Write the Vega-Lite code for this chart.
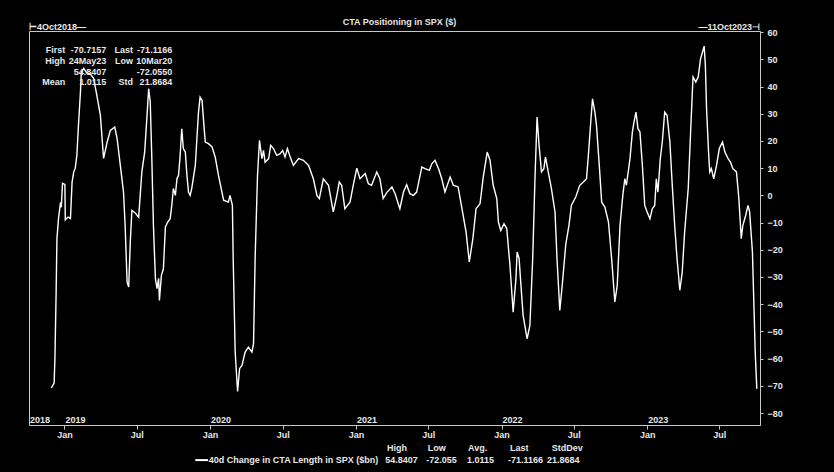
{
  "$schema": "https://vega.github.io/schema/vega-lite/v6.json",
  "autosize": "none",
  "width": 731,
  "height": 394,
  "padding": {"left": 29, "top": 31, "right": 74, "bottom": 47},
  "background": "#000000",
  "title": {"text": "CTA Positioning in SPX ($)", "anchor": "middle", "offset": -4, "dx": 5, "fontSize": 9, "font": "Liberation Sans", "fontWeight": "bold", "color": "#e8e8e8"},
  "config": {
    "view": {"stroke": "#c8c8c8", "strokeWidth": 1},
    "axis": {"grid": false, "domainColor": "#c8c8c8", "tickColor": "#c8c8c8", "labelColor": "#e8e8e8", "labelFont": "Liberation Sans", "labelFontWeight": "bold", "labelFontSize": 9, "title": null}
  },
  "datasets": {
    "series": [
      {"date": "2018-11-29", "v": -70.72}, {"date": "2018-12-06", "v": -69}, {"date": "2018-12-08", "v": -60}, {"date": "2018-12-11", "v": -36},
      {"date": "2018-12-13", "v": -16}, {"date": "2018-12-17", "v": -8.5}, {"date": "2018-12-22", "v": -2.6}, {"date": "2018-12-24", "v": -4.4},
      {"date": "2018-12-27", "v": 4.4}, {"date": "2019-01-02", "v": 4}, {"date": "2019-01-03", "v": -9}, {"date": "2019-01-10", "v": -8},
      {"date": "2019-01-16", "v": -8.5}, {"date": "2019-01-20", "v": 4.8}, {"date": "2019-01-24", "v": 8.5}, {"date": "2019-01-28", "v": 10},
      {"date": "2019-02-01", "v": 14.7}, {"date": "2019-02-05", "v": 25.7}, {"date": "2019-02-10", "v": 38}, {"date": "2019-02-12", "v": 45},
      {"date": "2019-02-18", "v": 46.7}, {"date": "2019-02-26", "v": 45}, {"date": "2019-03-07", "v": 44.6}, {"date": "2019-03-15", "v": 43},
      {"date": "2019-03-23", "v": 36.8}, {"date": "2019-04-01", "v": 29.4}, {"date": "2019-04-09", "v": 13.6}, {"date": "2019-04-18", "v": 19.6},
      {"date": "2019-04-26", "v": 23.9}, {"date": "2019-05-07", "v": 25.1}, {"date": "2019-05-13", "v": 20.8}, {"date": "2019-05-21", "v": 11},
      {"date": "2019-05-29", "v": 1.2}, {"date": "2019-06-02", "v": -11}, {"date": "2019-06-07", "v": -31.9}, {"date": "2019-06-11", "v": -33.7},
      {"date": "2019-06-15", "v": -17}, {"date": "2019-06-19", "v": -5.5}, {"date": "2019-06-28", "v": -6.6}, {"date": "2019-07-06", "v": -8},
      {"date": "2019-07-14", "v": 8.6}, {"date": "2019-07-21", "v": 15.9}, {"date": "2019-07-27", "v": 29.4}, {"date": "2019-07-31", "v": 39.2},
      {"date": "2019-08-04", "v": 34.3}, {"date": "2019-08-08", "v": 13.5}, {"date": "2019-08-12", "v": -11}, {"date": "2019-08-17", "v": -30.6},
      {"date": "2019-08-21", "v": -34.3}, {"date": "2019-08-25", "v": -30.5}, {"date": "2019-08-27", "v": -38.6}, {"date": "2019-09-01", "v": -29.4},
      {"date": "2019-09-06", "v": -27}, {"date": "2019-09-11", "v": -11.6}, {"date": "2019-09-17", "v": -9.8}, {"date": "2019-09-23", "v": -8.6},
      {"date": "2019-09-27", "v": -3.7}, {"date": "2019-10-01", "v": 2.5}, {"date": "2019-10-06", "v": 0}, {"date": "2019-10-10", "v": 6.1},
      {"date": "2019-10-14", "v": 7.4}, {"date": "2019-10-18", "v": 14.7}, {"date": "2019-10-22", "v": 24.5}, {"date": "2019-10-26", "v": 17.2},
      {"date": "2019-10-31", "v": 15.9}, {"date": "2019-11-04", "v": 7.4}, {"date": "2019-11-08", "v": 1.2}, {"date": "2019-11-12", "v": 0},
      {"date": "2019-11-16", "v": 2.5}, {"date": "2019-11-25", "v": 11}, {"date": "2019-11-29", "v": 20.8}, {"date": "2019-12-03", "v": 30.6},
      {"date": "2019-12-07", "v": 36.1}, {"date": "2019-12-12", "v": 34.9}, {"date": "2019-12-16", "v": 26.9}, {"date": "2019-12-20", "v": 19.6},
      {"date": "2019-12-28", "v": 19}, {"date": "2020-01-06", "v": 17.8}, {"date": "2020-01-14", "v": 14}, {"date": "2020-01-22", "v": 7.4},
      {"date": "2020-02-04", "v": -1.8}, {"date": "2020-02-16", "v": -2.5}, {"date": "2020-02-20", "v": 0}, {"date": "2020-02-26", "v": -3.7},
      {"date": "2020-02-28", "v": -23.3}, {"date": "2020-03-04", "v": -57.6}, {"date": "2020-03-10", "v": -72.06}, {"date": "2020-03-15", "v": -63.7},
      {"date": "2020-03-21", "v": -62.5}, {"date": "2020-03-29", "v": -57.6}, {"date": "2020-04-06", "v": -55.8}, {"date": "2020-04-15", "v": -57.6},
      {"date": "2020-04-19", "v": -54.5}, {"date": "2020-04-23", "v": -23.3}, {"date": "2020-04-29", "v": 7.4}, {"date": "2020-05-04", "v": 20.2},
      {"date": "2020-05-10", "v": 13.5}, {"date": "2020-05-14", "v": 16.5}, {"date": "2020-05-18", "v": 12.2}, {"date": "2020-05-27", "v": 13.5},
      {"date": "2020-06-01", "v": 18.4}, {"date": "2020-06-08", "v": 17.2}, {"date": "2020-06-16", "v": 14.7}, {"date": "2020-06-25", "v": 15.3},
      {"date": "2020-07-01", "v": 16.5}, {"date": "2020-07-07", "v": 14.1}, {"date": "2020-07-13", "v": 17.2}, {"date": "2020-07-20", "v": 14.1},
      {"date": "2020-07-28", "v": 11}, {"date": "2020-08-10", "v": 13.5}, {"date": "2020-08-22", "v": 12.9}, {"date": "2020-09-04", "v": 11},
      {"date": "2020-09-16", "v": 6.1}, {"date": "2020-09-25", "v": 0}, {"date": "2020-10-01", "v": -1.2}, {"date": "2020-10-11", "v": 6.1},
      {"date": "2020-10-24", "v": 3.7}, {"date": "2020-10-30", "v": -1.2}, {"date": "2020-11-05", "v": -6.1}, {"date": "2020-11-14", "v": 0},
      {"date": "2020-11-20", "v": 4.9}, {"date": "2020-11-26", "v": 3.7}, {"date": "2020-12-04", "v": -4.9}, {"date": "2020-12-17", "v": -2.5},
      {"date": "2020-12-25", "v": 3.7}, {"date": "2021-01-03", "v": 10}, {"date": "2021-01-11", "v": 6.1}, {"date": "2021-01-24", "v": 8},
      {"date": "2021-02-01", "v": 4.3}, {"date": "2021-02-09", "v": 3.7}, {"date": "2021-02-22", "v": 8.6}, {"date": "2021-03-02", "v": 6},
      {"date": "2021-03-10", "v": -1.2}, {"date": "2021-03-19", "v": 1}, {"date": "2021-04-01", "v": 3.1}, {"date": "2021-04-09", "v": 0.6},
      {"date": "2021-04-21", "v": -4.9}, {"date": "2021-04-30", "v": 1.2}, {"date": "2021-05-08", "v": 3.9}, {"date": "2021-05-16", "v": 0.6},
      {"date": "2021-05-25", "v": 0}, {"date": "2021-06-02", "v": 1.2}, {"date": "2021-06-15", "v": 10.4}, {"date": "2021-06-23", "v": 9.8},
      {"date": "2021-07-04", "v": 9.2}, {"date": "2021-07-10", "v": 11.6}, {"date": "2021-07-18", "v": 12.9}, {"date": "2021-07-27", "v": 9.8},
      {"date": "2021-08-04", "v": 6.1}, {"date": "2021-08-12", "v": 1.2}, {"date": "2021-08-25", "v": 6.7}, {"date": "2021-09-02", "v": 3.7},
      {"date": "2021-09-14", "v": 3.1}, {"date": "2021-09-23", "v": -4.3}, {"date": "2021-10-04", "v": -13.5}, {"date": "2021-10-12", "v": -24.5},
      {"date": "2021-10-21", "v": -15.9}, {"date": "2021-10-29", "v": -4.9}, {"date": "2021-11-08", "v": -3.1}, {"date": "2021-11-16", "v": 6.7},
      {"date": "2021-11-26", "v": 15.9}, {"date": "2021-12-03", "v": 12.9}, {"date": "2021-12-11", "v": 3.7}, {"date": "2021-12-20", "v": -1.2},
      {"date": "2021-12-24", "v": -9.8}, {"date": "2021-12-30", "v": -12.9}, {"date": "2022-01-07", "v": -10.4}, {"date": "2022-01-14", "v": -12.2},
      {"date": "2022-01-22", "v": -25.7}, {"date": "2022-01-30", "v": -42.9}, {"date": "2022-02-06", "v": -30.6}, {"date": "2022-02-09", "v": -20.8},
      {"date": "2022-02-14", "v": -23.3}, {"date": "2022-02-18", "v": -31.9}, {"date": "2022-02-24", "v": -44.1}, {"date": "2022-03-06", "v": -52.7},
      {"date": "2022-03-13", "v": -47.8}, {"date": "2022-03-20", "v": -23.3}, {"date": "2022-03-26", "v": 7.4}, {"date": "2022-03-31", "v": 28.8},
      {"date": "2022-04-05", "v": 18.4}, {"date": "2022-04-11", "v": 8.6}, {"date": "2022-04-17", "v": 9.8}, {"date": "2022-04-21", "v": 14.1},
      {"date": "2022-04-28", "v": 8.6}, {"date": "2022-05-06", "v": 2.5}, {"date": "2022-05-15", "v": -6.1}, {"date": "2022-05-20", "v": -23.3},
      {"date": "2022-05-27", "v": -42.3}, {"date": "2022-06-03", "v": -31.5}, {"date": "2022-06-11", "v": -18}, {"date": "2022-06-19", "v": -11},
      {"date": "2022-06-25", "v": -3.7}, {"date": "2022-07-06", "v": -0.6}, {"date": "2022-07-16", "v": 3.7}, {"date": "2022-07-25", "v": 4.9},
      {"date": "2022-08-02", "v": 6.1}, {"date": "2022-08-06", "v": 13.5}, {"date": "2022-08-12", "v": 25.7}, {"date": "2022-08-17", "v": 35.5},
      {"date": "2022-08-23", "v": 30.6}, {"date": "2022-08-27", "v": 25.7}, {"date": "2022-09-03", "v": 11}, {"date": "2022-09-09", "v": -2.5},
      {"date": "2022-09-17", "v": -4.3}, {"date": "2022-09-26", "v": -9.8}, {"date": "2022-10-04", "v": -23.3}, {"date": "2022-10-12", "v": -39.2},
      {"date": "2022-10-18", "v": -33.1}, {"date": "2022-10-25", "v": -11}, {"date": "2022-11-01", "v": 0}, {"date": "2022-11-06", "v": 6.1},
      {"date": "2022-11-10", "v": 3.7}, {"date": "2022-11-19", "v": 13.5}, {"date": "2022-11-25", "v": 23.3}, {"date": "2022-11-29", "v": 26.9},
      {"date": "2022-12-04", "v": 30.6}, {"date": "2022-12-09", "v": 24.5}, {"date": "2022-12-14", "v": 23.3}, {"date": "2022-12-20", "v": 11},
      {"date": "2022-12-26", "v": -3.7}, {"date": "2023-01-01", "v": -6.1}, {"date": "2023-01-08", "v": -8.6}, {"date": "2023-01-14", "v": -4.9},
      {"date": "2023-01-20", "v": -3.7}, {"date": "2023-01-24", "v": 6.1}, {"date": "2023-01-28", "v": 1.2}, {"date": "2023-02-03", "v": 13.5},
      {"date": "2023-02-08", "v": 19.6}, {"date": "2023-02-14", "v": 30.6}, {"date": "2023-02-20", "v": 29.4}, {"date": "2023-02-27", "v": 19.6},
      {"date": "2023-03-05", "v": 3.7}, {"date": "2023-03-11", "v": -11}, {"date": "2023-03-17", "v": -23.3}, {"date": "2023-03-24", "v": -34.9},
      {"date": "2023-03-30", "v": -28.2}, {"date": "2023-04-05", "v": -13.5}, {"date": "2023-04-14", "v": 2.5}, {"date": "2023-04-20", "v": 23.3},
      {"date": "2023-04-26", "v": 43.5}, {"date": "2023-05-03", "v": 41.7}, {"date": "2023-05-09", "v": 43.5}, {"date": "2023-05-15", "v": 50.2},
      {"date": "2023-05-24", "v": 54.84}, {"date": "2023-05-27", "v": 47.8}, {"date": "2023-05-30", "v": 31.9}, {"date": "2023-06-04", "v": 15.9},
      {"date": "2023-06-07", "v": 8.6}, {"date": "2023-06-11", "v": 9.8}, {"date": "2023-06-17", "v": 6.1}, {"date": "2023-06-24", "v": 11},
      {"date": "2023-07-01", "v": 17.2}, {"date": "2023-07-09", "v": 19.6}, {"date": "2023-07-15", "v": 15.9}, {"date": "2023-07-23", "v": 13.5},
      {"date": "2023-07-29", "v": 12.2}, {"date": "2023-08-04", "v": 9.8}, {"date": "2023-08-13", "v": 8.6}, {"date": "2023-08-19", "v": -1.2},
      {"date": "2023-08-25", "v": -15.9}, {"date": "2023-08-29", "v": -11}, {"date": "2023-09-05", "v": -7.4}, {"date": "2023-09-11", "v": -3.7},
      {"date": "2023-09-15", "v": -6.1}, {"date": "2023-09-22", "v": -20.8}, {"date": "2023-09-26", "v": -41.7}, {"date": "2023-09-29", "v": -57.6},
      {"date": "2023-10-03", "v": -71.12}
    ],
    "statsbox": [
      {"date": "2019-01-03", "v": 53.4, "t": "First"}, {"date": "2019-04-16", "v": 53.4, "t": "-70.7157"},
      {"date": "2019-06-22", "v": 53.4, "t": "Last"}, {"date": "2019-09-28", "v": 53.4, "t": "-71.1166"},
      {"date": "2019-01-03", "v": 49.4, "t": "High"}, {"date": "2019-04-16", "v": 49.4, "t": "24May23"},
      {"date": "2019-06-22", "v": 49.4, "t": "Low"}, {"date": "2019-09-28", "v": 49.4, "t": "10Mar20"},
      {"date": "2019-04-16", "v": 45.4, "t": "54.8407"}, {"date": "2019-09-28", "v": 45.4, "t": "-72.0550"},
      {"date": "2019-01-03", "v": 41.6, "t": "Mean"}, {"date": "2019-04-16", "v": 41.6, "t": "1.0115"},
      {"date": "2019-06-22", "v": 41.6, "t": "Std"}, {"date": "2019-09-28", "v": 41.6, "t": "21.8684"}
    ],
    "years": [
      {"date": "2018-10-04", "v": -82.4, "t": "2018"}, {"date": "2019-01-01", "v": -82.4, "t": "2019"}, {"date": "2020-01-01", "v": -82.4, "t": "2020"},
      {"date": "2021-01-01", "v": -82.4, "t": "2021"}, {"date": "2022-01-01", "v": -82.4, "t": "2022"}, {"date": "2023-01-01", "v": -82.4, "t": "2023"}
    ],
    "legendtable": [
      {"date": "2019-12-29", "v": -97.3, "t": "40d Change in CTA Length in SPX ($bn)"},
      {"date": "2021-03-20", "v": -92.9, "t": "High"}, {"date": "2021-03-15", "v": -97.3, "t": "54.8407"},
      {"date": "2021-06-30", "v": -92.9, "t": "Low"}, {"date": "2021-06-26", "v": -97.3, "t": "-72.055"},
      {"date": "2021-10-09", "v": -92.9, "t": "Avg."}, {"date": "2021-10-06", "v": -97.3, "t": "1.0115"},
      {"date": "2022-01-22", "v": -92.9, "t": "Last"}, {"date": "2022-01-17", "v": -97.3, "t": "-71.1166"},
      {"date": "2022-05-07", "v": -92.9, "t": "StdDev"}, {"date": "2022-04-25", "v": -97.3, "t": "21.8684"}
    ],
    "rangestart": [{"date": "2018-10-04", "v": 62.0, "t": "⊢4Oct2018—"}],
    "rangeend": [{"date": "2023-10-11", "v": 62.0, "t": "—11Oct2023⊣"}],
    "legendline": [{"date": "2019-11-25", "date2": "2019-12-27", "v": -97.3}]
  },
  "encoding": {
    "x": {
      "field": "date", "type": "temporal",
      "scale": {"type": "utc", "domain": [{"year": 2018, "month": 10, "date": 4, "utc": true}, {"year": 2023, "month": 10, "date": 11, "utc": true}]},
      "axis": {
        "orient": "bottom",
        "values": [
          {"year": 2019, "month": 1, "date": 1, "utc": true}, {"year": 2019, "month": 7, "date": 1, "utc": true},
          {"year": 2020, "month": 1, "date": 1, "utc": true}, {"year": 2020, "month": 7, "date": 1, "utc": true},
          {"year": 2021, "month": 1, "date": 1, "utc": true}, {"year": 2021, "month": 7, "date": 1, "utc": true},
          {"year": 2022, "month": 1, "date": 1, "utc": true}, {"year": 2022, "month": 7, "date": 1, "utc": true},
          {"year": 2023, "month": 1, "date": 1, "utc": true}, {"year": 2023, "month": 7, "date": 1, "utc": true}
        ],
        "labelExpr": "utcFormat(datum.value, '%b')",
        "tickSize": 4, "labelPadding": 1, "labelFlush": false, "labelOverlap": false
      }
    },
    "y": {
      "field": "v", "type": "quantitative",
      "scale": {"domain": [-84.4, 60.4], "nice": false, "zero": false},
      "axis": {
        "orient": "right",
        "values": [-80, -70, -60, -50, -40, -30, -20, -10, 0, 10, 20, 30, 40, 50, 60],
        "tickSize": 3, "labelPadding": 4, "labelFlush": false, "labelOverlap": false
      }
    }
  },
  "layer": [
    {
      "data": {"name": "series"},
      "mark": {"type": "line", "color": "#ffffff", "strokeWidth": 1.4, "interpolate": "linear"}
    },
    {
      "data": {"name": "statsbox"},
      "mark": {"type": "text", "align": "right", "baseline": "middle", "font": "Liberation Sans", "fontWeight": "bold", "fontSize": 9, "color": "#e8e8e8"},
      "encoding": {"text": {"field": "t"}}
    },
    {
      "data": {"name": "years"},
      "mark": {"type": "text", "align": "left", "baseline": "middle", "dx": 1, "font": "Liberation Sans", "fontWeight": "bold", "fontSize": 9, "color": "#e8e8e8"},
      "encoding": {"text": {"field": "t"}}
    },
    {
      "data": {"name": "legendtable"},
      "mark": {"type": "text", "align": "left", "baseline": "middle", "font": "Liberation Sans", "fontWeight": "bold", "fontSize": 9, "color": "#e8e8e8"},
      "encoding": {"text": {"field": "t"}}
    },
    {
      "data": {"name": "legendline"},
      "mark": {"type": "rule", "color": "#ffffff", "strokeWidth": 2},
      "encoding": {"x2": {"field": "date2"}}
    },
    {
      "data": {"name": "rangestart"},
      "mark": {"type": "text", "align": "left", "baseline": "middle", "font": "Liberation Sans", "fontWeight": "bold", "fontSize": 9, "color": "#e8e8e8"},
      "encoding": {"text": {"field": "t"}}
    },
    {
      "data": {"name": "rangeend"},
      "mark": {"type": "text", "align": "right", "baseline": "middle", "font": "Liberation Sans", "fontWeight": "bold", "fontSize": 9, "color": "#e8e8e8"},
      "encoding": {"text": {"field": "t"}}
    }
  ]
}
